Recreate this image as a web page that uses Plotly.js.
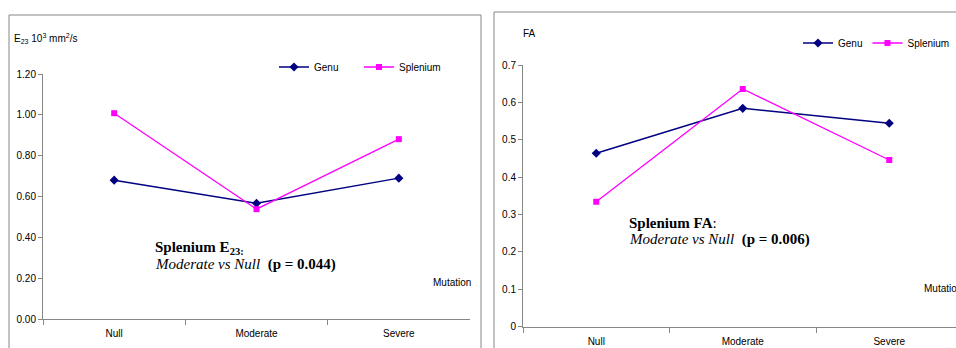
<!DOCTYPE html>
<html>
<head>
<meta charset="utf-8">
<script src="https://cdn.plot.ly/plotly-3.0.1.min.js"></script>
<style>html,body{margin:0;padding:0;background:#fff;}#chart{width:956px;height:348px;}</style>
</head>
<body>
<div id="chart"></div>
<script>
// ---- data ----
const categories = ['Null', 'Moderate', 'Severe'];
const e23Genu = [0.68, 0.567, 0.69];
const e23Splenium = [1.008, 0.538, 0.881];
const faGenu = [0.464, 0.584, 0.544];
const faSplenium = [0.334, 0.636, 0.446];
const seriesNames = ['Genu', 'Splenium'];
const e23TickVals = [0, 0.2, 0.4, 0.6, 0.8, 1.0, 1.2];
const faTickVals = [0, 0.1, 0.2, 0.3, 0.4, 0.5, 0.6, 0.7];

// ---- helpers ----
const W = 956, H = 348;
const px = x => x / W;
const py = y => 1 - y / H;
const SANS = '"Liberation Sans", Arial, sans-serif';
const SERIF = '"Liberation Serif", "Times New Roman", serif';
const NAVY = '#000080';
const MAGENTA = '#FF00FF';
const AXIS = '#868686';

const genuStyle = {mode: 'lines+markers', line: {color: NAVY, width: 1.5}, marker: {symbol: 'diamond', size: 7, color: NAVY}};
const splStyle = {mode: 'lines+markers', line: {color: MAGENTA, width: 1.3}, marker: {symbol: 'square', size: 6, color: MAGENTA}};

const traces = [
  Object.assign({x: categories, y: e23Genu, name: seriesNames[0], xaxis: 'x', yaxis: 'y', legend: 'legend'}, genuStyle),
  Object.assign({x: categories, y: e23Splenium, name: seriesNames[1], xaxis: 'x', yaxis: 'y', legend: 'legend'}, splStyle),
  Object.assign({x: categories, y: faGenu, name: seriesNames[0], xaxis: 'x2', yaxis: 'y2', legend: 'legend2'}, genuStyle),
  Object.assign({x: categories, y: faSplenium, name: seriesNames[1], xaxis: 'x2', yaxis: 'y2', legend: 'legend2'}, splStyle)
];

const tickFont = {family: SANS, size: 10, color: '#000'};
const xCommon = {
  type: 'category', showline: true, linecolor: AXIS, linewidth: 1, showgrid: false, zeroline: false,
  ticks: 'outside', tickson: 'boundaries', ticklen: 5, tickcolor: AXIS, tickfont: tickFont,
  ticklabelstandoff: 5, fixedrange: true
};
const yCommon = {
  showline: true, linecolor: AXIS, linewidth: 1, showgrid: false, zeroline: false,
  ticks: 'outside', ticklen: 4, tickcolor: AXIS, tickfont: tickFont, fixedrange: true
};

const layout = {
  width: W, height: H, autosize: false,
  margin: {l: 0, r: 0, t: 0, b: 0, pad: 0},
  paper_bgcolor: '#fff', plot_bgcolor: 'rgba(0,0,0,0)',
  showlegend: true,
  xaxis: Object.assign({}, xCommon, {domain: [px(43), px(470)], range: [-0.5, 2.5], anchor: 'y'}),
  yaxis: Object.assign({}, yCommon, {domain: [py(319), py(74)], range: [0, 1.2], tickvals: e23TickVals, tickformat: '.2f', anchor: 'x'}),
  xaxis2: Object.assign({}, xCommon, {domain: [px(523), 1], range: [-0.5, -0.5 + (W - 523) / 146.5], anchor: 'y2'}),
  yaxis2: Object.assign({}, yCommon, {domain: [py(326.7), py(65)], range: [0, 0.7], tickvals: faTickVals, anchor: 'x2'}),
  legend: {
    orientation: 'h', x: px(274), y: py(67), xanchor: 'left', yanchor: 'middle',
    font: {family: SANS, size: 10, color: '#000'}, bgcolor: 'rgba(0,0,0,0)', borderwidth: 0,
    entrywidth: 40, entrywidthmode: 'pixels', itemclick: false, itemdoubleclick: false
  },
  legend2: {
    orientation: 'h', x: px(798), y: py(43), xanchor: 'left', yanchor: 'middle',
    font: {family: SANS, size: 10, color: '#000'}, bgcolor: 'rgba(0,0,0,0)', borderwidth: 0,
    itemclick: false, itemdoubleclick: false
  },
  shapes: [
    {type: 'rect', xref: 'paper', yref: 'paper', x0: px(9), x1: px(481), y0: py(15), y1: py(360), line: {color: AXIS, width: 1}},
    {type: 'rect', xref: 'paper', yref: 'paper', x0: px(494), x1: px(980), y0: py(12), y1: py(360), line: {color: AXIS, width: 1}}
  ],
  annotations: [
    {xref: 'paper', yref: 'paper', x: px(12), y: py(38), xanchor: 'left', yanchor: 'middle', showarrow: false,
     text: 'E<sub>23</sub> 10<sup>3</sup> mm<sup>2</sup>/s', font: {family: SANS, size: 10, color: '#000'}},
    {xref: 'paper', yref: 'paper', x: px(521), y: py(33), xanchor: 'left', yanchor: 'middle', showarrow: false,
     text: 'FA', font: {family: SANS, size: 10, color: '#000'}},
    {xref: 'paper', yref: 'paper', x: px(452), y: py(282), xanchor: 'center', yanchor: 'middle', showarrow: false,
     text: 'Mutation', font: {family: SANS, size: 10, color: '#000'}},
    {xref: 'paper', yref: 'paper', x: px(922), y: py(288), xanchor: 'left', yanchor: 'middle', showarrow: false,
     text: 'Mutation', font: {family: SANS, size: 10, color: '#000'}},
    {xref: 'paper', yref: 'paper', x: px(153), y: py(248), xanchor: 'left', yanchor: 'middle', showarrow: false,
     text: '<b>Splenium E<sub>23:</sub></b>', font: {family: SERIF, size: 15, color: '#000'}},
    {xref: 'paper', yref: 'paper', x: px(153), y: py(264), xanchor: 'left', yanchor: 'middle', showarrow: false,
     text: '<i>Moderate vs Null</i>&nbsp;&nbsp;<b>(p = 0.044)</b>', font: {family: SERIF, size: 15, color: '#000'}},
    {xref: 'paper', yref: 'paper', x: px(627), y: py(223), xanchor: 'left', yanchor: 'middle', showarrow: false,
     text: '<b>Splenium FA</b>:', font: {family: SERIF, size: 15, color: '#000'}},
    {xref: 'paper', yref: 'paper', x: px(627), y: py(239), xanchor: 'left', yanchor: 'middle', showarrow: false,
     text: '<i>Moderate vs Null</i>&nbsp;&nbsp;<b>(p = 0.006)</b>', font: {family: SERIF, size: 15, color: '#000'}}
  ]
};

Plotly.newPlot('chart', traces, layout, {displayModeBar: false, staticPlot: true});
</script>
</body>
</html>
